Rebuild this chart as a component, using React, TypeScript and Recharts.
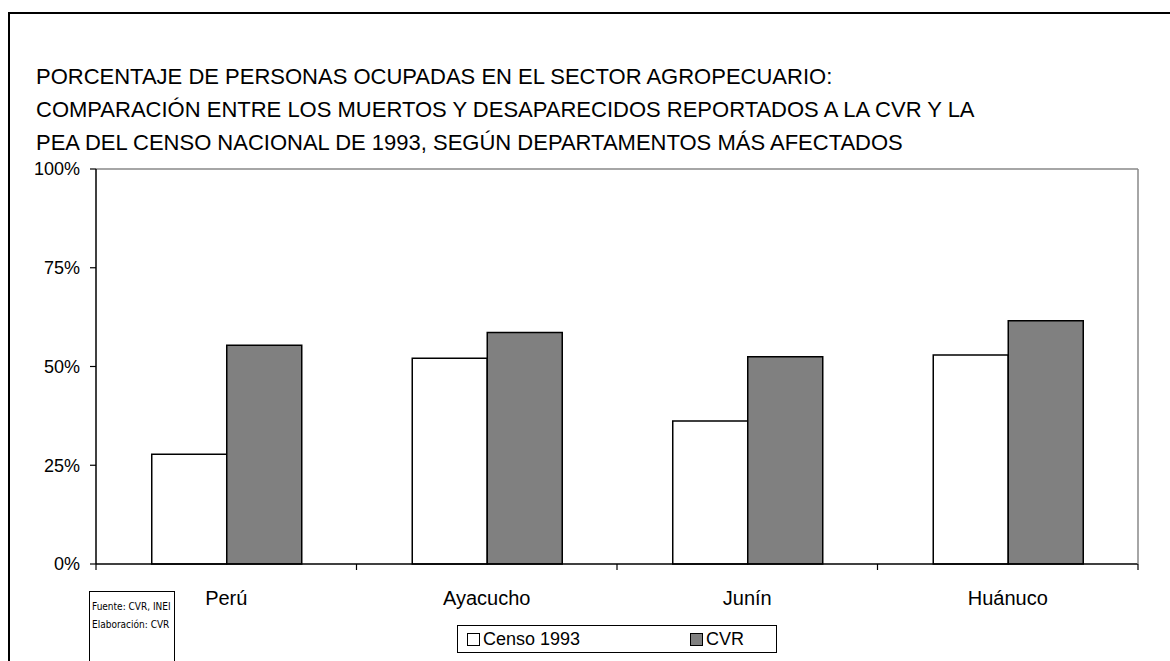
import { Bar, BarChart, Legend, ReferenceLine, XAxis, YAxis } from "recharts";

const departamentos = ["Perú", "Ayacucho", "Junín", "Huánuco"];
const censo1993 = [0.278, 0.521, 0.362, 0.529];
const cvr = [0.554, 0.586, 0.525, 0.616];
const yTicks = [0, 0.25, 0.5, 0.75, 1];
const titleLines = [
  "PORCENTAJE DE PERSONAS OCUPADAS EN EL SECTOR AGROPECUARIO:",
  "COMPARACIÓN ENTRE LOS MUERTOS Y DESAPARECIDOS REPORTADOS A LA CVR Y LA",
  "PEA DEL CENSO NACIONAL DE 1993, SEGÚN DEPARTAMENTOS MÁS AFECTADOS",
];
const sourceLines = ["Fuente: CVR, INEI", "Elaboración: CVR"];

const data = departamentos.map((name, i) => ({
  name,
  censo: censo1993[i],
  cvr: cvr[i],
}));

const FONT = "'Liberation Sans', Arial, sans-serif";
const TICK_MARGIN = 27;

// category label plus the small tick marks Excel draws between categories
function CategoryTick(props: any) {
  const { x, y, payload, index, visibleTicksCount } = props;
  const half = payload.offset ?? 0;
  const axisY = y - TICK_MARGIN;
  const isLast = index === visibleTicksCount - 1;
  return (
    <g>
      <line x1={x - half} x2={x - half} y1={axisY} y2={axisY + 6} stroke="#000" strokeWidth={1.2} />
      {isLast && (
        <line x1={x + half} x2={x + half} y1={axisY} y2={axisY + 6} stroke="#000" strokeWidth={1.2} />
      )}
      <text x={x} y={y} dy="0.71em" textAnchor="middle" fill="#000" fontSize={20} fontFamily={FONT}>
        {payload.value}
      </text>
    </g>
  );
}

function LegendBox() {
  const swatch = (fill: string) => (
    <span
      style={{
        display: "inline-block",
        width: 11,
        height: 11,
        background: fill,
        border: "1px solid #000",
        marginRight: 3,
      }}
    />
  );
  return (
    <div
      style={{
        position: "relative",
        width: 320,
        height: 28,
        border: "1px solid #000",
        background: "#fff",
        boxSizing: "border-box",
        fontFamily: FONT,
        fontSize: 18,
        color: "#000",
      }}
    >
      <div style={{ position: "absolute", left: 9, top: 3, display: "flex", alignItems: "center" }}>
        {swatch("#fff")}
        <span>Censo 1993</span>
      </div>
      <div style={{ position: "absolute", left: 232, top: 3, display: "flex", alignItems: "center" }}>
        {swatch("#808080")}
        <span>CVR</span>
      </div>
    </div>
  );
}

export default function App() {
  return (
    <div
      style={{
        position: "absolute",
        left: 0,
        top: 0,
        width: 1170,
        height: 661,
        overflow: "hidden",
        background: "#fff",
      }}
    >
      <div
        style={{
          position: "absolute",
          left: 8,
          top: 12,
          width: 1300,
          height: 800,
          border: "2px solid #000",
        }}
      />
      <div
        style={{
          position: "absolute",
          left: 36,
          top: 60,
          fontFamily: FONT,
          fontSize: 22,
          lineHeight: "33px",
          color: "#000",
          whiteSpace: "nowrap",
        }}
      >
        {titleLines.map((t) => (
          <div key={t}>{t}</div>
        ))}
      </div>
      <div
        style={{
          position: "absolute",
          left: 89,
          top: 591,
          width: 86,
          height: 100,
          border: "1px solid #000",
          fontFamily: "'Liberation Sans Narrow', 'DejaVu Sans Condensed', sans-serif",
          fontSize: 10,
          lineHeight: "18px",
          padding: "6px 2px 0",
          boxSizing: "border-box",
          whiteSpace: "nowrap",
          color: "#000",
        }}
      >
        {sourceLines.map((t) => (
          <div key={t}>{t}</div>
        ))}
      </div>
      <div style={{ position: "absolute", left: 0, top: 0 }}>
        <BarChart
          width={1170}
          height={661}
          data={data}
          margin={{ top: 169, right: 31, bottom: 47, left: 36 }}
          barCategoryGap="21.4%"
          barGap={0}
        >
          <XAxis
            dataKey="name"
            tickLine={false}
            tickSize={0}
            tickMargin={TICK_MARGIN}
            height={50}
            interval={0}
            axisLine={{ stroke: "#000", strokeWidth: 1.5 }}
            tick={<CategoryTick />}
          />
          <YAxis
            domain={[0, 1]}
            ticks={yTicks}
            interval={0}
            width={60}
            tickSize={6}
            tickMargin={10}
            tickFormatter={(v: number) => `${Math.round(v * 100)}%`}
            axisLine={{ stroke: "#000", strokeWidth: 1.5 }}
            tickLine={{ stroke: "#000", strokeWidth: 1.2 }}
            tick={{ fill: "#000", fontSize: 18, fontFamily: FONT }}
          />
          <YAxis
            yAxisId="right"
            orientation="right"
            domain={[0, 1]}
            width={1}
            tick={false}
            tickLine={false}
            axisLine={{ stroke: "#888", strokeWidth: 1.5 }}
          />
          <ReferenceLine y={1} stroke="#888" strokeWidth={1.5} />
          <Legend
            verticalAlign="middle"
            layout="horizontal"
            wrapperStyle={{ left: 457, top: 625, width: 320, height: 28 }}
            content={() => <LegendBox />}
          />
          <Bar
            dataKey="censo"
            name="Censo 1993"
            fill="#fff"
            stroke="#000"
            strokeWidth={1.5}
            isAnimationActive={false}
          />
          <Bar
            dataKey="cvr"
            name="CVR"
            fill="#808080"
            stroke="#000"
            strokeWidth={1.5}
            isAnimationActive={false}
          />
        </BarChart>
      </div>
    </div>
  );
}
